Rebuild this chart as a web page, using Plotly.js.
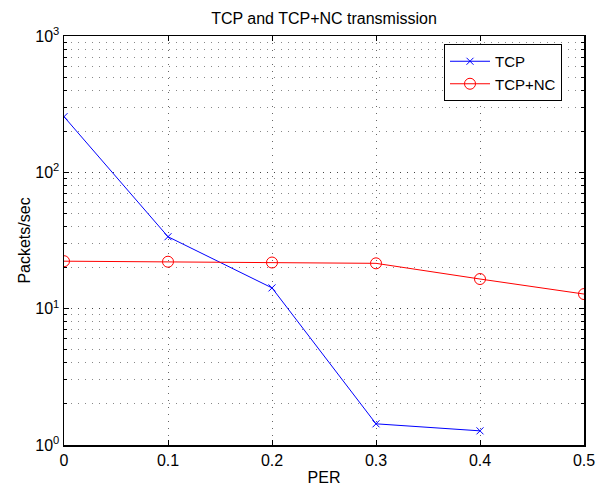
<!DOCTYPE html>
<html>
<head>
<meta charset="utf-8">
<script src="https://cdn.plot.ly/plotly-3.0.1.min.js"></script>
<style>html,body{margin:0;padding:0;background:#fff;}#chart{width:605px;height:486px;}</style>
</head>
<body>
<div id="chart"></div>
<script>
const tcpX = [0, 0.1, 0.2, 0.3, 0.4];
const tcpY = [256, 33.7, 14.2, 1.43, 1.27];
const ncX = [0, 0.1, 0.2, 0.3, 0.4, 0.5];
const ncY = [22.3, 22.1, 21.8, 21.5, 16.5, 12.8];
const xTicks = [0, 0.1, 0.2, 0.3, 0.4, 0.5];
const xTickText = ['0', '0.1', '0.2', '0.3', '0.4', '0.5'];
const yTicks = [1, 10, 100, 1000];
const yTickText = ['10<sup>0</sup>', '10<sup>1</sup>', '10<sup>2</sup>', '10<sup>3</sup>'];

const fam = 'Liberation Sans, Arial, sans-serif';
const font = {family: fam, size: 16, color: '#000'};

const traces = [
  {x: tcpX, y: tcpY, name: 'TCP', mode: 'lines+markers', type: 'scatter',
   line: {color: '#0000ff', width: 1},
   marker: {symbol: 'x-thin-open', size: 7, color: '#0000ff', line: {color: '#0000ff', width: 1}}},
  {x: ncX, y: ncY, name: 'TCP+NC', mode: 'lines+markers', type: 'scatter',
   line: {color: '#ff0000', width: 1},
   marker: {symbol: 'circle-open', size: 11, color: '#ff0000', line: {color: '#ff0000', width: 1}}}
];

const layout = {
  width: 605, height: 486,
  margin: {l: 64, r: 21, t: 36, b: 41},
  paper_bgcolor: '#fff', plot_bgcolor: '#fff',
  font: font,
  title: {text: 'TCP and TCP+NC transmission', font: {family: fam, size: 16, color: '#000'},
          xref: 'paper', x: 0.5, xanchor: 'center', y: 1 - 18/486, yanchor: 'middle'},
  showlegend: true,
  legend: {x: (444-64)/520, y: (445-44)/409, xanchor: 'left', yanchor: 'top',
           bgcolor: '#fff', bordercolor: '#000', borderwidth: 1,
           tracegroupgap: 0, itemwidth: 40,
           font: {family: fam, size: 15, color: '#000'}},
  xaxis: {
    range: [0, 0.5], tickvals: xTicks, ticktext: xTickText,
    showline: true, linecolor: '#000', linewidth: 1.5, mirror: 'ticks',
    ticks: 'inside', ticklen: 5, tickcolor: '#000',
    showgrid: true, gridcolor: '#666', griddash: '1px,6px', gridwidth: 1,
    zeroline: false,
    tickfont: font,
    title: {text: 'PER', font: font, standoff: 4}
  },
  yaxis: {
    type: 'log', range: [0, 3], tickvals: yTicks, ticktext: yTickText,
    showline: true, linecolor: '#000', linewidth: 1.5, mirror: 'ticks',
    ticks: 'inside', ticklen: 5, tickcolor: '#000',
    showgrid: true, gridcolor: '#444', griddash: '1px,6px', gridwidth: 1,
    zeroline: false,
    tickfont: font,
    minor: {dtick: 'D1', ticks: 'inside', ticklen: 3, tickcolor: '#000', showgrid: true, gridcolor: '#888', griddash: '1px,6px', gridwidth: 1},
    title: {text: 'Packets/sec', font: font, standoff: 0}
  }
};

Plotly.newPlot('chart', traces, layout, {displayModeBar: false, staticPlot: true});
</script>
</body>
</html>
